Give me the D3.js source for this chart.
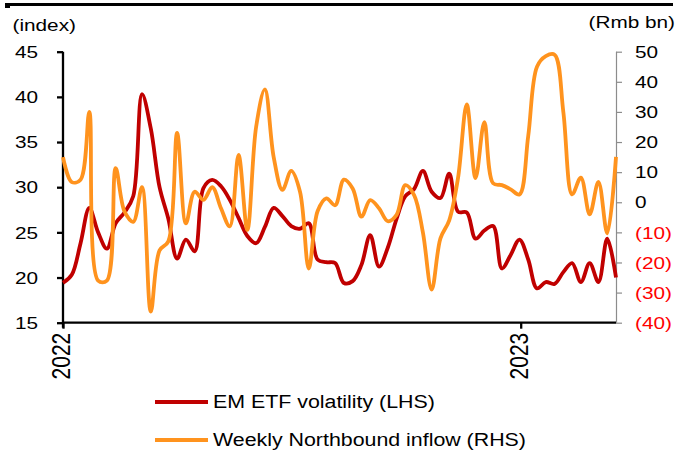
<!DOCTYPE html>
<html>
<head>
<meta charset="utf-8">
<script src="https://cdn.jsdelivr.net/npm/d3@7"></script>
<style>
  body { margin: 0; background: #fff; }
  svg { display: block; }
  text { font-family: "Liberation Sans", Arial, sans-serif; }
</style>
</head>
<body>
<svg id="chart" width="678" height="450"></svg>
<script>
// Weekly observation dates
const weeks = [
  "2022-01-01","2022-01-08","2022-01-15","2022-01-22","2022-01-29","2022-02-05","2022-02-12","2022-02-19",
  "2022-02-26","2022-03-05","2022-03-12","2022-03-19","2022-03-26","2022-04-02","2022-04-09","2022-04-16",
  "2022-04-23","2022-04-30","2022-05-07","2022-05-14","2022-05-21","2022-05-28","2022-06-04","2022-06-11",
  "2022-06-18","2022-06-25","2022-07-02","2022-07-09","2022-07-16","2022-07-23","2022-07-30","2022-08-06",
  "2022-08-13","2022-08-20","2022-08-27","2022-09-03","2022-09-10","2022-09-17","2022-09-24","2022-10-01",
  "2022-10-08","2022-10-15","2022-10-22","2022-10-29","2022-11-05","2022-11-12","2022-11-19","2022-11-26",
  "2022-12-03","2022-12-10","2022-12-17","2022-12-24","2022-12-31","2023-01-07","2023-01-14","2023-01-21",
  "2023-01-28","2023-02-04","2023-02-11","2023-02-18","2023-02-25","2023-03-04","2023-03-11","2023-03-18"
];

// EM ETF volatility index (left axis)
const etfVolatility = [
  19.4, 20.3, 23.8, 27.7, 25.0, 23.2, 26.0, 27.2, 29.0, 40.3, 36.5, 30.0, 26.5, 22.1, 24.2, 22.9,
  29.9, 30.8, 30.1, 28.6, 26.6, 24.6, 23.8, 25.6, 27.7, 26.8, 25.7, 25.4, 26.0, 22.0, 21.7, 21.6,
  19.4, 19.6, 21.4, 24.7, 21.2, 23.3, 26.5, 29.0, 29.8, 31.8, 29.5, 28.8, 31.5, 27.3, 27.2, 24.3,
  25.2, 25.7, 21.0, 22.5, 24.2, 22.0, 18.8, 19.5, 19.3, 20.6, 21.6, 19.5, 21.6, 19.5, 24.3, 20.0
];

// Weekly Northbound inflow, Rmb bn (right axis)
const northboundInflow = [
  15.0, 6.7, 7.5, 30.0, -26.0, -26.0, 11.3, -3.0, -6.5, 5.0, -36.3, -16.0, -13.0, 23.0, -7.0, 3.5,
  0.8, 5.0, -2.0, -8.0, 15.7, -9.2, 25.0, 37.5, 15.0, 4.1, 10.4, 3.5, -22.0, -3.0, 1.3, -1.0,
  7.5, 4.6, -4.8, 0.7, -2.0, -6.3, -4.2, 5.7, 2.4, -10.0, -29.0, -12.0, -6.0, 8.0, 32.5, 8.0,
  26.6, 6.3, 5.7, 4.3, 2.6, 22.0, 45.0, 48.5, 49.0, 30.0, 2.6, 8.2, -4.0, 6.8, -10.3, 15.1
];

const leftTicks = [15, 20, 25, 30, 35, 40, 45];
const rightTicks = [-40, -30, -20, -10, 0, 10, 20, 30, 40, 50];
const yearTicks = ["2022-01-01", "2023-01-01"];
const seriesNames = ["EM ETF volatility (LHS)", "Weekly Northbound inflow (RHS)"];
const seriesColors = ["#C00000", "#FF931E"];
const leftUnit = "(index)";
const rightUnit = "(Rmb bn)";

const parse = d3.timeParse("%Y-%m-%d");
const dates = weeks.map(parse);

const svg = d3.select("#chart");
const plot = { left: 63, right: 616, top: 51.7, bottom: 322.7 };
const fontSize = 17.3;
const stretch = 1.2;

const x = d3.scaleTime()
  .domain([dates[0], dates[dates.length - 1]])
  .range([plot.left, plot.right]);
const yL = d3.scaleLinear().domain([15, 45]).range([plot.bottom, plot.top]);
const yR = d3.scaleLinear().domain([-40, 50]).range([plot.bottom, plot.top]);

// Text helper: glyphs are drawn slightly wide
function label(g, tx, ty, str, anchor, fill, rotate, size) {
  const t = g.append("g")
    .attr("transform", `translate(${tx},${ty}) scale(${stretch},1)` + (rotate ? ` rotate(${rotate})` : ""));
  return t.append("text")
    .attr("x", 0).attr("y", 0)
    .attr("text-anchor", anchor)
    .attr("font-size", size || fontSize)
    .attr("fill", fill || "#000")
    .text(str);
}

// Top rule
svg.append("rect").attr("x", 5).attr("y", 3).attr("width", 668).attr("height", 3).attr("fill", "#000");
svg.append("rect").attr("x", 5).attr("y", 3).attr("width", 5).attr("height", 5).attr("fill", "#000");

// Unit labels
label(svg, 12.5, 31, leftUnit, "start");
label(svg, 675, 28, rightUnit, "end");

// Right axis (grey)
const rAxis = svg.append("g").attr("transform", `translate(${plot.right},0)`)
  .call(d3.axisRight(yR).tickValues(rightTicks).tickSize(6).tickFormat(""));
rAxis.select(".domain").attr("stroke", "#8c8c8c").attr("stroke-width", 1.2).attr("d", `M0.5,${plot.top}V${plot.bottom}`);
rAxis.selectAll(".tick line").attr("stroke", "#8c8c8c").attr("stroke-width", 1.2);
rightTicks.forEach(v => {
  const s = v < 0 ? `(${Math.abs(v)})` : String(v);
  label(svg, 635, yR(v) + 6.2, s, "start", v < 0 ? "#FF0000" : "#000");
});

// Left axis
const lAxis = svg.append("g").attr("transform", `translate(${plot.left},0)`)
  .call(d3.axisLeft(yL).tickValues(leftTicks).tickSize(6).tickFormat(""));
lAxis.select(".domain").attr("stroke", "#000").attr("stroke-width", 2.3).attr("d", `M0,${plot.top}V${plot.bottom + 5}`);
lAxis.selectAll(".tick line").attr("stroke", "#000").attr("stroke-width", 2.3);
leftTicks.forEach(v => label(svg, 38, yL(v) + 6.2, String(v), "end"));

// Bottom axis with year marks
const xAxis = svg.append("g").attr("transform", `translate(0,${plot.bottom})`)
  .call(d3.axisBottom(x).tickValues(yearTicks.map(parse)).tickSize(6).tickFormat(""));
xAxis.select(".domain").attr("stroke", "#000").attr("stroke-width", 2.3).attr("d", `M${plot.left},0H${plot.right}`);
xAxis.selectAll(".tick line").attr("stroke", "#000").attr("stroke-width", 2.3);
yearTicks.forEach(d => {
  label(svg, x(parse(d)) + 7, plot.bottom + 10, d.slice(0, 4), "end", "#000", -90, 21);
});

// Series lines
const lineL = d3.line().x((d, i) => x(dates[i])).y(d => yL(d)).curve(d3.curveCatmullRom.alpha(0.5));
const lineR = d3.line().x((d, i) => x(dates[i])).y(d => yR(d)).curve(d3.curveCatmullRom.alpha(0.5));

svg.append("path").datum(etfVolatility)
  .attr("fill", "none").attr("stroke", seriesColors[0]).attr("stroke-width", 3.8)
  .attr("stroke-linejoin", "round").attr("d", lineL);
svg.append("path").datum(northboundInflow)
  .attr("fill", "none").attr("stroke", seriesColors[1]).attr("stroke-width", 3.8)
  .attr("stroke-linejoin", "round").attr("d", lineR);

// Legend
const legendY = [402, 440];
seriesNames.forEach((name, i) => {
  svg.append("line").attr("x1", 155).attr("x2", 208)
    .attr("y1", legendY[i]).attr("y2", legendY[i])
    .attr("stroke", seriesColors[i]).attr("stroke-width", 3.8);
  label(svg, 213, legendY[i] + 6.4, name, "start", "#000", 0, 17.8);
});
</script>
</body>
</html>
